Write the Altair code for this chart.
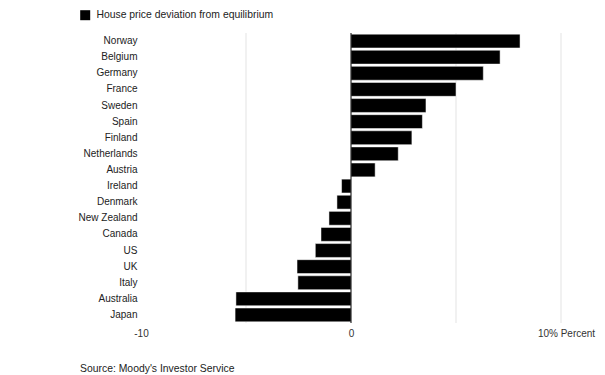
import altair as alt
import pandas as pd

countries = ["Norway", "Belgium", "Germany", "France", "Sweden", "Spain", "Finland",
             "Netherlands", "Austria", "Ireland", "Denmark", "New Zealand", "Canada",
             "US", "UK", "Italy", "Australia", "Japan"]
values = [8.05, 7.1, 6.3, 5.0, 3.57, 3.4, 2.9, 2.25, 1.15, -0.45, -0.67, -1.05,
          -1.43, -1.7, -2.57, -2.53, -5.48, -5.52]
series_name = "House price deviation from equilibrium"
x_labels = [-10, 0, 10]
grid_lines = [-5, 5, 10]
zero_line = [0]

df = pd.DataFrame({"country": countries, "value": values, "series": series_name})
gdf = pd.DataFrame({"g": grid_lines})
zdf = pd.DataFrame({"z": zero_line})

FONT = "Liberation Sans"
x_scale = alt.Scale(domain=[-10, 12], nice=False, zero=False)
x_axis = alt.Axis(values=x_labels, title=None, grid=False, domain=False, ticks=False,
                  labelExpr="datum.value == 10 ? '10% Percent' : (datum.value == -10 ? '-10' : datum.label)",
                  labelFont=FONT, labelFontSize=10, labelColor="#333333",
                  labelOffset={"expr": "datum.value == 10 ? 5 : 0"},
                  labelPadding=5, labelFlush=False)

grid = alt.Chart(gdf).mark_rule(color="#e3e3e3", strokeWidth=1).encode(
    x=alt.X("g:Q", scale=x_scale, axis=x_axis)
)

bars = alt.Chart(df).mark_bar(color="black", stroke="white", strokeWidth=0.5).encode(
    x=alt.X("value:Q", scale=x_scale, axis=x_axis),
    y=alt.Y("country:N", sort=countries, scale=alt.Scale(paddingInner=0.14, paddingOuter=0.07),
            axis=alt.Axis(title=None, domain=False, ticks=False, labelPadding=4,
                          labelFont=FONT, labelFontSize=10, labelColor="#222222")),
    color=alt.Color("series:N", scale=alt.Scale(range=["black"]),
                    legend=alt.Legend(title=None, orient="none", legendX=-61, legendY=-23,
                                      symbolType="square", symbolSize=100, symbolStrokeWidth=0,
                                      labelFont=FONT, labelFontSize=10.4, labelColor="#222222",
                                      labelLimit=0, padding=0, labelOffset=6))
)

zero = alt.Chart(zdf).mark_rule(color="black", strokeWidth=1).encode(
    x=alt.X("z:Q", scale=x_scale, axis=x_axis)
)

chart = alt.layer(grid, bars, zero).properties(
    width=462, height=290,
    padding={"left": 141, "top": 33, "right": 2, "bottom": 52},
    autosize=alt.AutoSizeParams(type="none"),
    title=alt.TitleParams("Source: Moody's Investor Service", orient="bottom", anchor="start",
                          frame="group", dx=-61, offset=26, font=FONT, fontSize=10.4,
                          fontWeight="normal", color="#222222"),
).configure(background="white").configure_view(strokeWidth=0, stroke="transparent")

chart.save("out.html", embed_options={"renderer": "svg", "actions": False})
